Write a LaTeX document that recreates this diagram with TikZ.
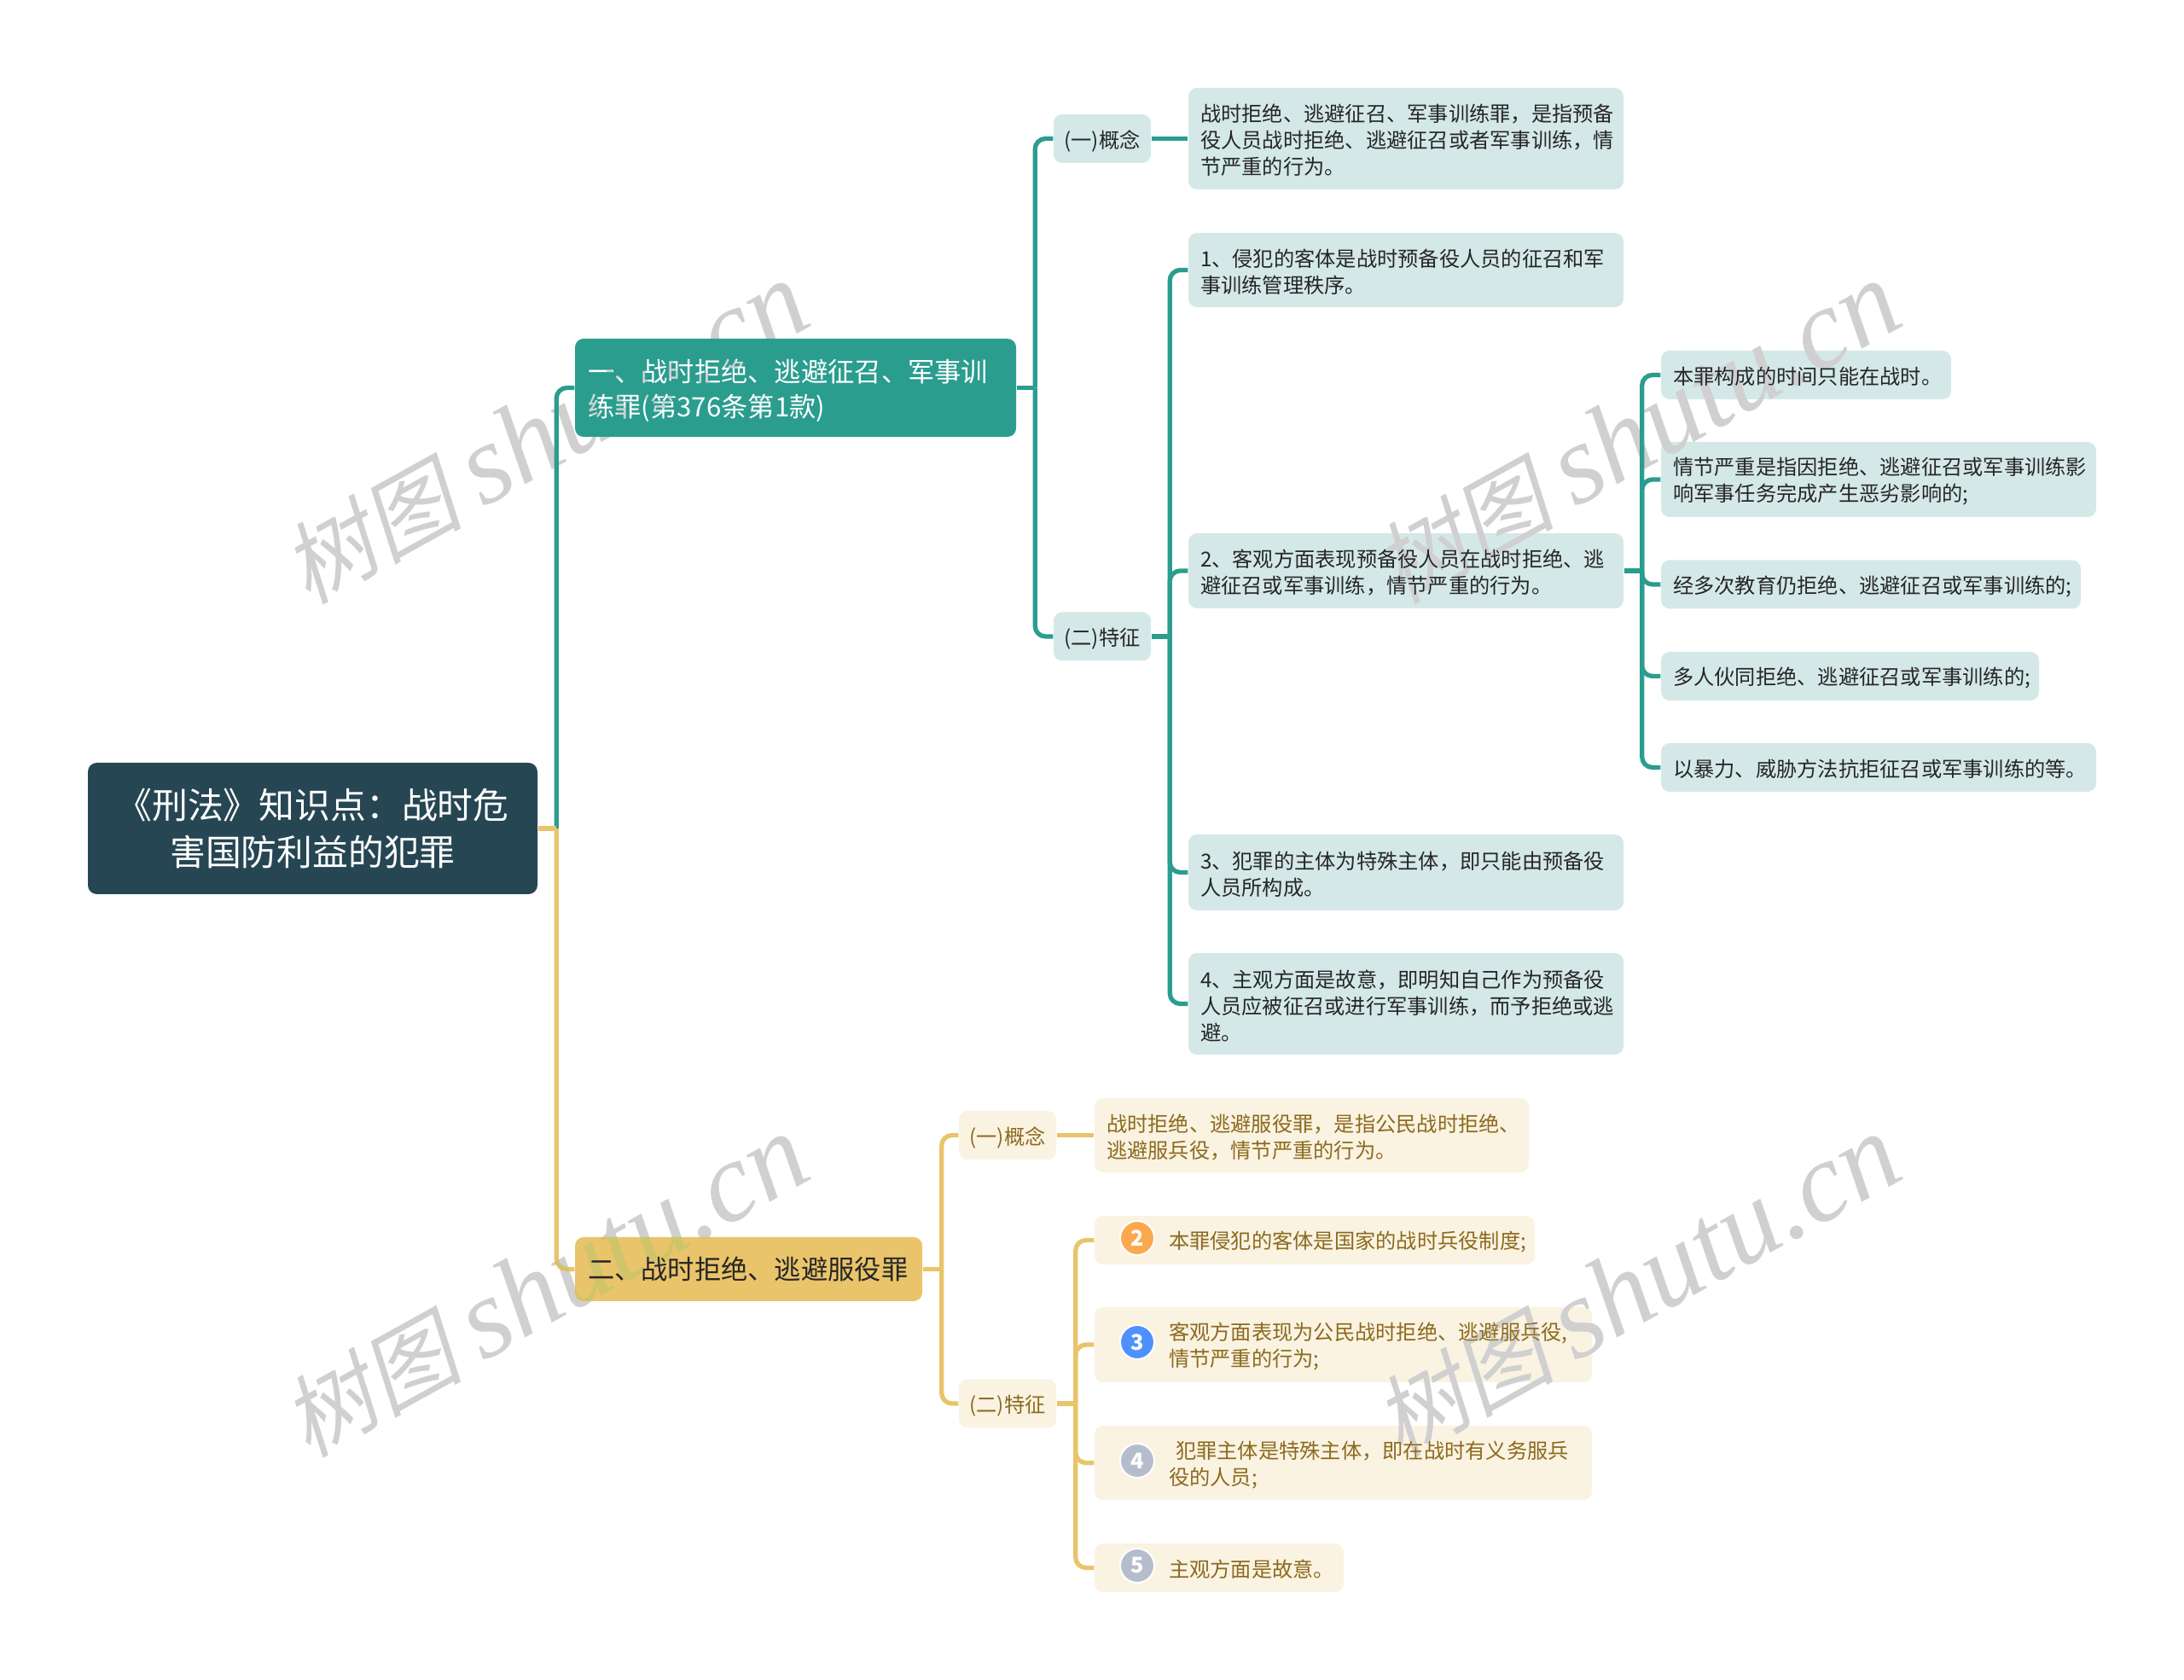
\documentclass[tikz,border=0pt]{standalone}
\usepackage{fontspec}
\setmainfont{Noto Sans CJK SC}
\newfontfamily\markcjk[FakeSlant=0.2]{Noto Sans CJK SC}
\newfontfamily\marklatin{Liberation Serif}
\usepackage{xcolor}
\usepackage{tikz}
\usetikzlibrary{shapes.geometric, positioning, calc}
\definecolor{rootblue}{HTML}{264653}
\definecolor{mainteal}{HTML}{2A9D8F}
\definecolor{paleteal}{HTML}{D4E9E7}
\definecolor{maingold}{HTML}{E9C46A}
\definecolor{palegold}{HTML}{FAF3E2}
\definecolor{inkgold}{HTML}{8C6A1E}
\definecolor{badgeorange}{HTML}{FBA84F}
\definecolor{badgeblue}{HTML}{4D90FE}
\definecolor{badgegray}{HTML}{B5BCCB}
\definecolor{markgray}{HTML}{D0D0D0}
\newcommand{\badgegap}{\hspace*{0.73cm}}
\tikzset{
    block_root/.style={rectangle, rounded corners=3pt, fill=rootblue, text=white, align=center, inner sep=0pt, minimum width=5.27cm, minimum height=1.54cm, font=\fontsize{11.9}{15.6}\selectfont},
    block_teal/.style={rectangle, rounded corners=2.85pt, fill=mainteal, text=white, align=left, inner xsep=0.15cm, inner ysep=0pt, execute at begin node={\rule{0pt}{0.33cm}}, font=\fontsize{8.9}{11.7}\selectfont},
    block_gold/.style={rectangle, rounded corners=2.85pt, fill=maingold, text=black!85, align=left, inner xsep=0.15cm, inner ysep=0pt, font=\fontsize{8.9}{11.7}\selectfont},
    tag_teal/.style={rectangle, rounded corners=2.85pt, fill=paleteal, text=black!85, inner sep=0pt, minimum width=1.14cm, minimum height=0.57cm, text height=0.24cm, text depth=0.02cm, font=\fontsize{6.9}{8.82}\selectfont},
    tag_gold/.style={rectangle, rounded corners=2.85pt, fill=palegold, text=inkgold, inner sep=0pt, minimum width=1.14cm, minimum height=0.57cm, text height=0.24cm, text depth=0.02cm, font=\fontsize{6.9}{8.82}\selectfont},
    leaf_teal/.style={rectangle, rounded corners=2.85pt, fill=paleteal, text=black!85, align=left, inner xsep=0.14cm, inner ysep=0pt, execute at begin node={\rule{0pt}{0.25cm}}, font=\fontsize{6.9}{8.82}\selectfont},
    leaf_gold/.style={rectangle, rounded corners=2.85pt, fill=palegold, text=inkgold, align=left, inner xsep=0.14cm, inner ysep=0pt, execute at begin node={\rule{0pt}{0.25cm}}, font=\fontsize{6.9}{8.82}\selectfont},
    badge/.style={circle, draw=white, line width=0.57pt, text=white, inner sep=0pt, minimum size=0.40cm, font=\fontsize{7.2}{8}\selectfont\bfseries},
    link_teal/.style={mainteal, line width=1.5pt, rounded corners=3.5pt},
    link_gold/.style={maingold, line width=1.5pt, rounded corners=3.5pt},
    watermark/.style={text=markgray, rotate=29, inner sep=0pt, font=\fontsize{30}{32}\selectfont}
}
\newcommand{\marktext}{{\markcjk 树图} {\marklatin\itshape\fontsize{37.8}{39}\selectfont shutu.cn}}
\begin{document}
\begin{tikzpicture}
            \useasboundingbox (0,0) rectangle (25.6,19.69);

            % Root and Main Topics
            \node[block_root] (root) at (3.665,9.98) {《刑法》知识点：战时危\\害国防利益的犯罪};
            \node[block_teal, text width=4.87cm, minimum height=1.15cm] (topicA) at (9.325,15.145) {一、战时拒绝、逃避征召、军事训\\练罪(第376条第1款)};
            \node[block_gold, text width=3.77cm, minimum height=0.75cm] (topicB) at (8.775,4.815) {二、战时拒绝、逃避服役罪};

            % First Topic
            \node[tag_teal] (conceptA) at (12.92,18.065) {(一)概念};
            \node[tag_teal] (featureA) at (12.92,12.23) {(二)特征};
            \node[leaf_teal, text width=4.82cm, minimum height=1.19cm] (defA) at (16.48,18.065) {战时拒绝、逃避征召、军事训练罪，是指预备\\役人员战时拒绝、逃避征召或者军事训练，情\\节严重的行为。};
            \node[leaf_teal, text width=4.82cm, minimum height=0.87cm] (itemA) at (16.48,16.525) {1、侵犯的客体是战时预备役人员的征召和军\\事训练管理秩序。};
            \node[leaf_teal, text width=4.82cm, minimum height=0.88cm] (itemB) at (16.48,13.00) {2、客观方面表现预备役人员在战时拒绝、逃\\避征召或军事训练，情节严重的行为。};
            \node[leaf_teal, text width=4.82cm, minimum height=0.89cm] (itemC) at (16.48,9.465) {3、犯罪的主体为特殊主体，即只能由预备役\\人员所构成。};
            \node[leaf_teal, text width=4.82cm, minimum height=1.19cm] (itemD) at (16.48,7.925) {4、主观方面是故意，即明知自己作为预备役\\人员应被征召或进行军事训练，而予拒绝或逃\\避。};

            % Details of Item 2
            \node[leaf_teal, text width=3.12cm, minimum height=0.57cm] (subA) at (21.17,15.295) {本罪构成的时间只能在战时。};
            \node[leaf_teal, text width=4.82cm, minimum height=0.88cm] (subB) at (22.02,14.07) {情节严重是指因拒绝、逃避征召或军事训练影\\响军事任务完成产生恶劣影响的;};
            \node[leaf_teal, text width=4.64cm, minimum height=0.57cm] (subC) at (21.93,12.84) {经多次教育仍拒绝、逃避征召或军事训练的;};
            \node[leaf_teal, text width=4.15cm, minimum height=0.57cm] (subD) at (21.685,11.765) {多人伙同拒绝、逃避征召或军事训练的;};
            \node[leaf_teal, text width=4.82cm, minimum height=0.57cm] (subE) at (22.02,10.695) {以暴力、威胁方法抗拒征召或军事训练的等。};

            % Second Topic
            \node[tag_gold] (conceptB) at (11.81,6.385) {(一)概念};
            \node[tag_gold] (featureB) at (11.81,3.24) {(二)特征};
            \node[leaf_gold, text width=4.81cm, minimum height=0.87cm] (defB) at (15.375,6.385) {战时拒绝、逃避服役罪，是指公民战时拒绝、\\逃避服兵役，情节严重的行为。};
            \node[leaf_gold, text width=4.88cm, minimum height=0.57cm] (pointA) at (15.41,5.155) {\badgegap 本罪侵犯的客体是国家的战时兵役制度;};
            \node[leaf_gold, text width=5.55cm, minimum height=0.88cm] (pointB) at (15.745,3.93) {\badgegap 客观方面表现为公民战时拒绝、逃避服兵役,\\\badgegap 情节严重的行为;};
            \node[leaf_gold, text width=5.55cm, minimum height=0.87cm] (pointC) at (15.745,2.545) {\badgegap\hspace*{0.08cm}犯罪主体是特殊主体，即在战时有义务服兵\\\badgegap 役的人员;};
            \node[leaf_gold, text width=2.64cm, minimum height=0.57cm] (pointD) at (14.29,1.315) {\badgegap 主观方面是故意。};

            % Connectors First Topic
            \draw[link_teal] (root.east) -- ++(0.215,0) coordinate (rootfork);
            \draw[link_teal] (rootfork) |- (topicA.west);
            \draw[link_teal] (topicA.east) -- ++(0.215,0) coordinate (topicAfork);
            \draw[link_teal] (topicAfork) |- (conceptA.west);
            \draw[link_teal] (topicAfork) |- (featureA.west);
            \draw[link_teal] (conceptA.east) -- (defA.west);
            \draw[link_teal] (featureA.east) -- ++(0.215,0) coordinate (featureAfork);
            \draw[link_teal] (featureAfork) |- (itemA.west);
            \draw[link_teal] (featureAfork) |- (itemB.west);
            \draw[link_teal] (featureAfork) |- (itemC.west);
            \draw[link_teal] (featureAfork) |- (itemD.west);
            \draw[link_teal] (itemB.east) -- ++(0.21,0) coordinate (itemBfork);
            \draw[link_teal] (itemBfork) |- (subA.west);
            \draw[link_teal] (itemBfork) |- (subB.west);
            \draw[link_teal] (itemBfork) |- (subC.west);
            \draw[link_teal] (itemBfork) |- (subD.west);
            \draw[link_teal] (itemBfork) |- (subE.west);

            % Connectors Second Topic
            \draw[link_gold] (root.east) -- (rootfork);
            \draw[link_gold] (rootfork) |- (topicB.west);
            \draw[link_gold] (topicB.east) -- ++(0.22,0) coordinate (topicBfork);
            \draw[link_gold] (topicBfork) |- (conceptB.west);
            \draw[link_gold] (topicBfork) |- (featureB.west);
            \draw[link_gold] (conceptB.east) -- (defB.west);
            \draw[link_gold] (featureB.east) -- ++(0.22,0) coordinate (featureBfork);
            \draw[link_gold] (featureBfork) |- (pointA.west);
            \draw[link_gold] (featureBfork) |- (pointB.west);
            \draw[link_gold] (featureBfork) |- (pointC.west);
            \draw[link_gold] (featureBfork) |- (pointD.west);

            % Badges
            \node[badge, fill=badgeorange] (badgeA) at (13.33,5.18) {2};
            \node[badge, fill=badgeblue] (badgeB) at (13.33,3.96) {3};
            \node[badge, fill=badgegray] (badgeC) at (13.33,2.57) {4};
            \node[badge, fill=badgegray] (badgeD) at (13.33,1.34) {5};

            % Watermarks
            \begin{scope}[blend mode=darken]
            \node[watermark] (markA) at (6.385,14.61) {\marktext};
            \node[watermark] (markB) at (19.185,14.61) {\marktext};
            \node[watermark] (markC) at (6.385,4.61) {\marktext};
            \node[watermark] (markD) at (19.185,4.61) {\marktext};
            \end{scope}
		\end{tikzpicture}
\end{document}
